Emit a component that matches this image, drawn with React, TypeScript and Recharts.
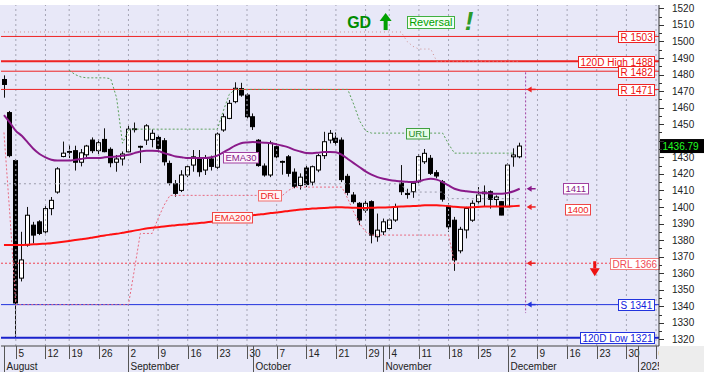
import React from "react";
import { ComposedChart, Bar, Line, XAxis, YAxis, ReferenceLine, ReferenceDot } from "recharts";

const FONT = '"Liberation Sans", Arial, Helvetica, sans-serif';
const LAVENDER = "#e8e8f8";
const PLOT_RIGHT = 659;
const PLOT_BOTTOM = 346;

// ---------- categories (trading days) ----------
const dates = "08-01 08-02 08-05 08-06 08-07 08-08 08-09 08-12 08-13 08-14 08-16 08-19 08-20 08-21 08-22 08-23 08-26 08-27 08-28 08-29 08-30 09-02 09-03 09-04 09-05 09-06 09-09 09-10 09-11 09-12 09-13 09-16 09-17 09-18 09-19 09-20 09-23 09-24 09-25 09-26 09-27 09-30 10-01 10-02 10-03 10-04 10-07 10-08 10-09 10-10 10-11 10-14 10-15 10-16 10-17 10-18 10-21 10-22 10-23 10-24 10-25 10-29 10-30 10-31 11-01 11-04 11-05 11-06 11-07 11-08 11-11 11-12 11-13 11-14 11-15 11-18 11-19 11-20 11-21 11-22 11-25 11-26 11-27 11-28 11-29 12-02 12-03 12-04 12-05 12-06 12-09 12-10 12-11 12-12 12-13 12-16 12-17 12-18 12-19 12-20 12-23 12-24 12-25 12-26 12-27 12-30 12-31 01-01 01-02 01-03 01-06".split(" ");

const weekTicks = ["08-05","08-12","08-19","08-26","09-02","09-09","09-16","09-23","09-30","10-07","10-14","10-21","10-29","11-04","11-11","11-18","11-25","12-02","12-09","12-16","12-23","12-30","01-06"];
const weekLabels = ["5","12","19","26","2","9","16","23","30","7","14","21","29","4","11","18","25","2","9","16","23","30","6"];
const monthStarts = ["08-01","09-02","10-01","11-01","12-02","01-01"];
const monthLabels = ["August","September","October","November","December","2025"];

const yTicks = [1320,1325,1330,1335,1340,1345,1350,1355,1360,1365,1370,1375,1380,1385,1390,1395,1400,1405,1410,1415,1420,1425,1430,1435,1440,1445,1450,1455,1460,1465,1470,1475,1480,1485,1490,1495,1500,1505,1510,1515,1520];

// ---------- OHLC ----------
const open = [1477,1457,1428,1357,1377,1389,1391,1385,1399,1409,
  1430.5,1433,1434,1427,1431.5,1440.4,1434,1440.8,1434.8,1427,
  1429,1433.3,1446.7,1436.6,1440.4,1440.8,1442,1440,1426.3,1414,
  1410,1419.3,1425.3,1429.4,1422.3,1429,1424,1446.5,1453.5,1463.6,
  1471.5,1467.6,1454.5,1440.3,1424.7,1419.3,1436.4,1427.5,1430.3,1421,
  1413,1423.5,1415,1422.3,1431,1440.4,1441.5,1440.4,1418.5,1407.2,
  1402.2,1398.1,1403.2,1382,1385,1387,1392.1,1414.3,1408.2,1409.2,
  1415.2,1427.3,1429.4,1420.7,1415.2,1400.5,1392,1373.5,1386.1,1392,
  1403.2,1409,1409.2,1404.5,1403.2,1400.1,1430.3,1430.3];
const high = [1479.5,1458,1429,1385,1400,1391,1392,1400.5,1406,1424,
  1439.5,1437.5,1437,1435,1437.5,1442,1441,1447.5,1436,1431.4,
  1433.5,1449.5,1451,1437,1450,1446.8,1443.2,1441.6,1428,1416.3,
  1422.2,1425.3,1434.4,1434.4,1431.4,1431,1445,1456.4,1464.6,1475.3,
  1475,1468.6,1456.5,1441,1426.3,1440,1438.4,1428,1431.4,1423.3,
  1420.3,1425,1425,1432,1445.4,1446.5,1445,1442,1420,1409,
  1403,1404,1404,1396,1393,1393,1402,1425.3,1411,1415,
  1432,1435,1431.4,1422.3,1416.3,1402.2,1394,1388,1400.1,1404,
  1412,1413,1410,1407,1403.5,1426.3,1435.4,1438.8];
const low = [1466,1430,1321,1355,1376,1378,1383,1384,1395,1408,
  1430,1429.5,1422,1424.5,1430,1432.5,1432,1433,1424,1421.3,
  1425,1433,1445,1426.5,1437.4,1436,1433,1425,1413,1406.2,
  1409,1418,1421.3,1418.3,1419.3,1422,1423,1445.4,1453,1462.6,
  1466.6,1453.5,1446.5,1424.3,1418.3,1418,1429.4,1419.5,1418.3,1411.3,
  1410.5,1412,1413,1421,1429,1438.4,1437,1415,1407,1402,
  1389,1396.5,1378,1379,1383,1386,1391,1407.2,1405,1405.5,
  1414.3,1426,1419.3,1417.3,1403.2,1385,1361.4,1372,1381,1391,
  1402,1400,1399,1400,1395,1400,1424.3,1429.4];
const close = [1474,1431,1342,1368,1395,1383,1384,1399,1404,1423,
  1432.5,1433.5,1427,1432.7,1436.8,1434,1438.8,1433.4,1426.7,1429,
  1432,1447,1447.2,1436.2,1449,1444.5,1435.4,1427.3,1414.6,1408.2,
  1419.3,1424.3,1430.3,1421.3,1429.4,1424.5,1444,1454.5,1462.6,1471.7,
  1467.6,1454.5,1448.5,1425,1419.3,1438.6,1430.3,1427,1420.3,1412.5,
  1418,1413.5,1424.3,1431,1439.4,1444.5,1439,1416.5,1408.8,1403.2,
  1392.1,1402.2,1383,1386,1391,1392.1,1400.1,1409.2,1407.5,1414.3,
  1430.4,1432.4,1420.3,1418.7,1404.7,1388,1368,1386.5,1399.1,1402.2,
  1407.2,1408,1404.6,1406,1395.1,1425.3,1431.4,1436.79];

// ---------- indicator lines ----------
const ema30 = [1455.5,1451,1446,1443,1439,1435,1432,1430,1428.5,1428,
  1428,1428,1428.5,1429,1429.5,1429.5,1429.5,1430,1430.2,1430.5,
  1431,1431.5,1432.5,1433.5,1434,1434,1433.8,1432.5,1431.5,1430.5,
  1430,1429.5,1429.5,1429.5,1429.5,1430,1431,1433,1435,1437,
  1438.5,1439,1439.2,1439,1438.8,1438.5,1437.8,1437,1436,1434.5,
  1433.5,1432.6,1432.5,1432.8,1433.2,1433.2,1433,1431.5,1429,1426.5,
  1424,1421.5,1419.5,1418,1417,1416.3,1415.8,1415.5,1415.2,1415,
  1415.5,1416.5,1417,1416.5,1415,1413,1411,1410,1409.5,1409,
  1408.8,1408.5,1408.2,1408,1408,1408.5,1409.5,1411];
const ema200 = [1377,1377,1377,1377,1377.2,1377.4,1377.6,1377.8,1378,1378.5,
  1379,1379.5,1380,1380.5,1381,1381.6,1382.2,1382.8,1383.3,1383.8,
  1384.4,1385,1385.7,1386.3,1387,1387.4,1387.8,1388.2,1388.6,1389,
  1389.3,1389.6,1390,1390.3,1390.6,1391,1391.5,1392,1392.6,1393.2,
  1393.8,1394.4,1395,1395.4,1395.8,1396.3,1396.7,1397.1,1397.6,1398,
  1398.4,1398.7,1399,1399.2,1399.4,1399.6,1399.8,1399.8,1399.6,1399.5,
  1399.4,1399.4,1399.5,1399.6,1399.7,1399.8,1400,1400.2,1400.4,1400.5,
  1400.7,1401,1401.1,1401,1400.8,1400.5,1400.1,1399.8,1399.7,1399.8,
  1400,1400.2,1400.3,1400.3,1400.2,1400.3,1400.5,1400.7];
const url = [null,null,null,null,null,null,null,null,null,null,
  null,1482.5,1480,1478.5,1478,1478,1478,1478,1477.5,1466,
  1438.5,1446.5,1447,1447,1447,1447,1447,1447,1447,1447,
  1447,1447,1447,1447,1447,1447,1447,1458,1468,1471,
  1471,1471,1471,1471,1471,1471,1471,1471,1471,1471,
  1471,1471,1471,1471,1471,1471,1471,1471,1471,1462,
  1452,1446,1444.6,1444.6,1444.6,1444.6,1444.6,1444.6,1444.6,1444.6,
  1444.6,1444.6,1444.6,1444.6,1444.6,1438,1432.5,1432.5,1432.5,1432.5,
  1432.5,1432.5,1432.5,1432.5,1432.5,1432.5,1432.5,null];
const drl = [1445,1395,1341,1341,1341,1341,1341,1341,1341,1341,
  1341,1341,1341,1341,1341,1341,1341,1341,1341,1341,
  1341,1341,1362,1384,1384,1384,1393,1401,1407,1407,
  1407,1407,1407,1407,1407,1407,1407,1407,1407,1407,
  1407,1407,1407,1407,1407,1407,1407,1407,1410,1412,
  1412,1412,1412,1412,1412,1412,1412,1412,1405,1397,
  1390,1385,1383,1383,1383,1383,1383,1383,1383,1383,
  1383,1383,1383,1383,1383,1383,1366,1366,1366,1366,
  1366,1366,1366,1366,1366,1366,1366,1366];
const prior = [1414,1414,1414,1414,1414,1414,1414,1414,1414,1414,
  1414,1414,1414,1414,1414,1414,1414,1414,1414,1414,
  1414,1414,1414,1414,1414,1414,1414,1414,1414,1414,
  1414,1414,1414,1414,1414,1414,1414,1414,1414,1414,
  1414,1414,1414,1414,1414,1414,1414,1414,1414,1414,
  1414,1414,1414,1414,1414,1414,1414,1414,1414,1414,
  1414,1414,1414,1414,1414,1414,1414,1414,1409,1409,
  1409,1409,1409,1409,1409,1405,1405,1405,1405,1405,
  1405,1405,1405,1405,1405,1405,1405,1405];
const rollHigh = [1505.7,1505.7,1505.7,1505.7,1505.7,1505.7,1505.7,1505.7,1505.7,1505.7,
  1505.7,1505.7,1505.7,1505.7,1505.7,1505.7,1505.7,1505.7,1505.7,1505.7,
  1505.7,1505.7,1505.7,1505.7,1505.7,1505.7,1505.7,1505.7,1505.7,1505.7,
  1505.7,1505.7,1505.7,1505.7,1505.7,1505.7,1505.7,1505.7,1505.7,1505.7,
  1505.7,1505.7,1505.7,1505.7,1505.7,1505.7,1505.7,1505.7,1505.7,1505.7,
  1505.7,1505.7,1505.7,1505.7,1505.7,1505.7,1505.7,1505.7,1505.7,1505.7,
  1505.7,1505.7,1505.7,1505.7,1505.7,1505.7,1505.7,1505.7,1500,1497,
  1495.4,1495.4,1495.4,1488,1488,1488,1488,1488,1488,1488,
  1488,1488,1488,1488,1488,1488,1488,1488];

// ---------- horizontal levels ----------
const levelValues = [1503, 1488, 1482, 1471, 1366, 1341, 1321];
const levelTexts = ["R 1503", "120D High 1488", "R 1482", "R 1471", "DRL 1366", "S 1341", "120D Low 1321"];
const levelStyles = [
  { stroke: "#ee2222", width: 1, dash: undefined, text: "#ee1111", border: "#ee2222", pad: 5 },
  { stroke: "#ee2222", width: 2, dash: undefined, text: "#ee1111", border: "#ee2222", pad: 5 },
  { stroke: "#ee2222", width: 1, dash: undefined, text: "#ee1111", border: "#ee2222", pad: 5 },
  { stroke: "#ee2222", width: 1, dash: undefined, text: "#ee1111", border: "#ee2222", pad: 5 },
  { stroke: "#f04050", width: 1, dash: "2 2", text: "#f04a55", border: "#f08080", pad: 0 },
  { stroke: "#2233dd", width: 1, dash: undefined, text: "#1122dd", border: "#2233dd", pad: 5 },
  { stroke: "#1a22cc", width: 2, dash: undefined, text: "#1122dd", border: "#2233dd", pad: 5 },
];
const lastPrice = 1436.79;
const arrowLevels = [1471, 1411, 1400, 1366, 1341];
const arrowColors = ["#ee2222", "#8a1a8a", "#ee2222", "#ee2222", "#2233dd"];
const markerDay = dates[88];

// ---------- helpers ----------
const CW: Record<string, number> = {
  " ": 278, ".": 278, R: 722, D: 722, H: 722, S: 667, L: 556, E: 667, M: 833, A: 667, U: 722,
  i: 222, g: 556, h: 556, o: 556, w: 722, e: 556, v: 500, r: 333, s: 500, a: 556, l: 222,
};
function textWidth(s: string, size: number) {
  let w = 0;
  for (const ch of s) w += CW[ch] ?? 556;
  return (w * size) / 1000;
}

function Tag({ x, cy, text, color, border, fill = "#fff", size = 10, anchor = "end" }: any) {
  const w = Math.round(textWidth(text, size) + 4);
  const h = size + 1;
  let left = anchor === "end" ? x - w : anchor === "middle" ? x - w / 2 : x;
  left = Math.round(left) + 0.5;
  const top = Math.round(cy - h / 2) + 0.5;
  return (
    <g>
      <rect x={left} y={top} width={w} height={h} fill={fill} stroke={border || color} strokeWidth={1} />
      <text x={left + 2} y={top + h / 2 + size * 0.36} fontSize={size} fill={color} fontFamily={FONT}>{text}</text>
    </g>
  );
}

const rows = dates.map((date, i) => ({
  date,
  open: open[i],
  high: high[i],
  low: low[i],
  close: close[i],
  range: i < open.length ? [low[i], high[i]] : undefined,
  ema30: ema30[i],
  ema200: ema200[i],
  url: url[i],
  drl: drl[i],
  prior: prior[i],
  rollHigh: rollHigh[i],
}));

function Candle(props: any) {
  const { x, y, width, height, payload } = props;
  if (!payload || payload.open == null || !isFinite(y) || !isFinite(height)) return null;
  const top = Math.min(y, y + height);
  const h = Math.abs(height);
  const { open: o, high: hi, low: lo, close: c } = payload;
  const span = hi - lo || 1;
  const py = (v: number) => top + ((hi - v) / span) * h;
  const n = Math.round(x + width / 2 - 0.5);
  const cx = n + 0.5;
  const bTop = py(Math.max(o, c));
  const bBot = py(Math.min(o, c));
  const up = c >= o;
  return (
    <g>
      <line x1={cx} x2={cx} y1={top} y2={top + h} stroke="#111" strokeWidth={1} />
      <rect x={n - 1.5} y={bTop} width={4} height={Math.max(bBot - bTop, 0.8)} fill={up ? "#fff" : "#000"} stroke="#000" strokeWidth={1} />
    </g>
  );
}

const weekIndex = new Map(weekTicks.map((d, i) => [d, i]));
const monthIndex = new Map(monthStarts.map((d, i) => [d, i]));

function XTick(props: any) {
  const { x, payload } = props;
  const d = payload?.value;
  const wi = weekIndex.get(d);
  const mi = monthIndex.get(d);
  if (wi == null && mi == null) return <g />;
  const lx = Math.round(x) + 0.5;
  return (
    <g>
      {wi != null && <line x1={lx} x2={lx} y1={PLOT_BOTTOM} y2={PLOT_BOTTOM + 13} stroke="#555" strokeWidth={1} />}
      {mi != null && <line x1={lx} x2={lx} y1={PLOT_BOTTOM} y2={PLOT_BOTTOM + 26} stroke="#555" strokeWidth={1} />}
      <svg x={0} y={0} width={PLOT_RIGHT} height={387}>
        {wi != null && (
          <text x={lx + 2} y={PLOT_BOTTOM + 11} fontSize={10} fill="#222" fontFamily={FONT}>{weekLabels[wi]}</text>
        )}
        {mi != null && (
          <text x={lx + 2} y={PLOT_BOTTOM + 24} fontSize={10} fill="#222" fontFamily={FONT}>{monthLabels[mi]}</text>
        )}
      </svg>
    </g>
  );
}

function YTick(props: any) {
  const { x, y, payload } = props;
  const v = payload?.value;
  const major = v % 10 === 0;
  const ly = Math.round(y) + 0.5;
  // the last-price tag covers the label right next to it
  const hidden = Math.abs(v - lastPrice) < 5;
  return (
    <g>
      <line x1={x} x2={x + (major ? 5 : 3)} y1={ly} y2={ly} stroke="#333" strokeWidth={1} />
      {major && !hidden && (
        <text x={x + 13} y={y + 3.6} fontSize={10} fill="#222" fontFamily={FONT}>{v}</text>
      )}
    </g>
  );
}

function ArrowLeft({ cx, cy, color }: any) {
  return (
    <g>
      <polygon points={`${cx + 1},${cy} ${cx + 6},${cy - 3} ${cx + 6},${cy + 3}`} fill={color} />
      <line x1={cx + 5} x2={cx + 10} y1={cy} y2={cy} stroke={color} strokeWidth={1.5} />
    </g>
  );
}

function Signal({ cx, cy }: any) {
  const X = cx + 26;
  return (
    <g>
      <text x={cx - 12.5} y={cy + 6} fontSize={16} fontWeight="bold" fill="#008c00" fontFamily={FONT}>GD</text>
      <polygon points={`${X - 6},${cy - 0.5} ${X},${cy - 8.5} ${X + 6},${cy - 0.5}`} fill="#00a000" />
      <rect x={X - 2} y={cy - 1} width={4} height={9.5} fill="#00a000" />
      <rect x={Math.round(cx + 47) + 0.5} y={Math.round(cy - 6) + 0.5} width={47} height={12} fill="#f4fff4" stroke="#40b040" strokeWidth={1} />
      <text x={cx + 49.5} y={cy + 4} fontSize={11} fill="#00a000" fontFamily={FONT}>Reversal</text>
      <text x={cx + 105} y={cy + 8.5} fontSize={26} fontWeight="bold" fontStyle="italic" fill="#2a9a2a" fontFamily={FONT}>!</text>
    </g>
  );
}

function DownArrow({ cx, cy }: any) {
  const X = cx - 2;
  return (
    <g>
      <rect x={X - 1.5} y={cy - 2} width={3} height={7} fill="#ee1111" />
      <polygon points={`${X - 5},${cy + 5} ${X + 5},${cy + 5} ${X},${cy + 13}`} fill="#ee1111" />
    </g>
  );
}

export default function App() {
  return (
    <div style={{ position: "absolute", left: 0, top: 0, width: 704, height: 387, background: "#fff", overflow: "hidden" }}>
      <div style={{ position: "absolute", left: 0, top: 5, width: PLOT_RIGHT, height: 367, background: LAVENDER }} />
      <div style={{ position: "absolute", left: PLOT_RIGHT, top: PLOT_BOTTOM, width: 704 - PLOT_RIGHT, height: 26, background: "#ededed" }} />
      <div style={{ position: "absolute", left: 0, top: 0 }}>
        <ComposedChart width={704} height={387} data={rows} margin={{ top: 5, right: 0, bottom: 0, left: 1 }}>
          <XAxis dataKey="date" interval={0} height={41} tickLine={false} tickSize={0} tickMargin={0} tick={<XTick />} axisLine={{ stroke: "#444" }} />
          <YAxis orientation="right" width={45} type="number" domain={[1316, 1522]} ticks={yTicks} interval={0} allowDataOverflow tickLine={false} tickSize={0} tickMargin={0} tick={<YTick />} axisLine={{ stroke: "#333" }} />

          {weekTicks.map((d) => (
            <ReferenceLine key={"g" + d} x={d} stroke="#a4a4b4" strokeDasharray="2 3" strokeWidth={1} />
          ))}

          {levelValues.map((v, i) => (
            <ReferenceLine
              key={"l" + v}
              y={v}
              stroke={levelStyles[i].stroke}
              strokeWidth={levelStyles[i].width}
              strokeDasharray={levelStyles[i].dash}
              label={(p: any) => (
                <Tag
                  x={p.viewBox.x + p.viewBox.width - levelStyles[i].pad}
                  cy={p.viewBox.y}
                  text={levelTexts[i]}
                  color={levelStyles[i].text}
                  border={levelStyles[i].border}
                />
              )}
            />
          ))}

          <Line dataKey="rollHigh" type="linear" stroke="#d09090" strokeWidth={1} strokeDasharray="1 3" dot={false} isAnimationActive={false} />
          <Line dataKey="prior" type="linear" stroke="#9a9aaa" strokeWidth={1} strokeDasharray="2 3" dot={false} isAnimationActive={false} />
          <Line dataKey="drl" type="linear" stroke="#e86a80" strokeWidth={1} strokeDasharray="2 2" dot={false} isAnimationActive={false} />
          <Line dataKey="url" type="linear" stroke="#5aa05a" strokeWidth={1} strokeDasharray="2 2" dot={false} isAnimationActive={false} />

          <Bar dataKey="range" barSize={4} shape={<Candle />} isAnimationActive={false} />

          <Line dataKey="ema200" type="monotone" stroke="#ff1010" strokeWidth={2} dot={false} isAnimationActive={false} />
          <Line dataKey="ema30" type="monotone" stroke="#8a1a8a" strokeWidth={2} dot={false} isAnimationActive={false} />

          <ReferenceLine
            segment={[{ x: markerDay, y: 1481.3 }, { x: markerDay, y: 1335.9 }]}
            stroke="#a040a0"
            strokeDasharray="2 2"
          />

          {arrowLevels.map((v, i) => (
            <ReferenceDot key={"a" + v} x={markerDay} y={v} r={0} shape={(p: any) => <ArrowLeft cx={p.cx} cy={p.cy} color={arrowColors[i]} />} />
          ))}

          <ReferenceDot x={dates[96]} y={1411.4} r={0} shape={(p: any) => <Tag x={p.cx + 2} cy={p.cy} text="1411" color="#8a1a8a" border="#a040a0" size={9.5} anchor="middle" />} />
          <ReferenceDot x={dates[96]} y={1398.9} r={0} shape={(p: any) => <Tag x={p.cx + 4.5} cy={p.cy} text="1400" color="#ee2222" border="#ee4444" size={9.5} anchor="middle" />} />
          <ReferenceDot x={dates[40]} y={1430.2} r={0} shape={(p: any) => <Tag x={p.cx - 1} cy={p.cy} text="EMA30" color="#8a1a8a" border="#a040a0" fill="#fdf4fd" size={9.5} anchor="middle" />} />
          <ReferenceDot x={dates[38]} y={1393.9} r={0} shape={(p: any) => <Tag x={p.cx + 2.6} cy={p.cy} text="EMA200" color="#ee2222" border="#ee4444" fill="#fff4f4" size={9.5} anchor="middle" />} />
          <ReferenceDot x={dates[45]} y={1407.2} r={0} shape={(p: any) => <Tag x={p.cx - 1} cy={p.cy} text="DRL" color="#ee2222" border="#f07070" fill="#fff4f4" size={9.5} anchor="middle" />} />
          <ReferenceDot x={dates[70]} y={1444.6} r={0} shape={(p: any) => <Tag x={p.cx - 1} cy={p.cy} text="URL" color="#208a20" border="#40a040" fill="#e6fbe6" size={9.5} anchor="middle" />} />
          <ReferenceDot x={dates[60]} y={1512} r={0} shape={(p: any) => <Signal cx={p.cx} cy={p.cy} />} />
          <ReferenceDot x={dates[100]} y={1366} r={0} shape={(p: any) => <DownArrow cx={p.cx} cy={p.cy} />} />

          <ReferenceLine
            y={lastPrice}
            stroke="none"
            label={(p: any) => (
              <g>
                <rect x={p.viewBox.x + p.viewBox.width + 1} y={p.viewBox.y - 7} width={46} height={14} fill="#000" />
                <text x={p.viewBox.x + p.viewBox.width + 3.5} y={p.viewBox.y + 3.6} fontSize={10} fill="#22ff22" fontFamily={FONT}>1436.79</text>
              </g>
            )}
          />
        </ComposedChart>
      </div>
    </div>
  );
}
